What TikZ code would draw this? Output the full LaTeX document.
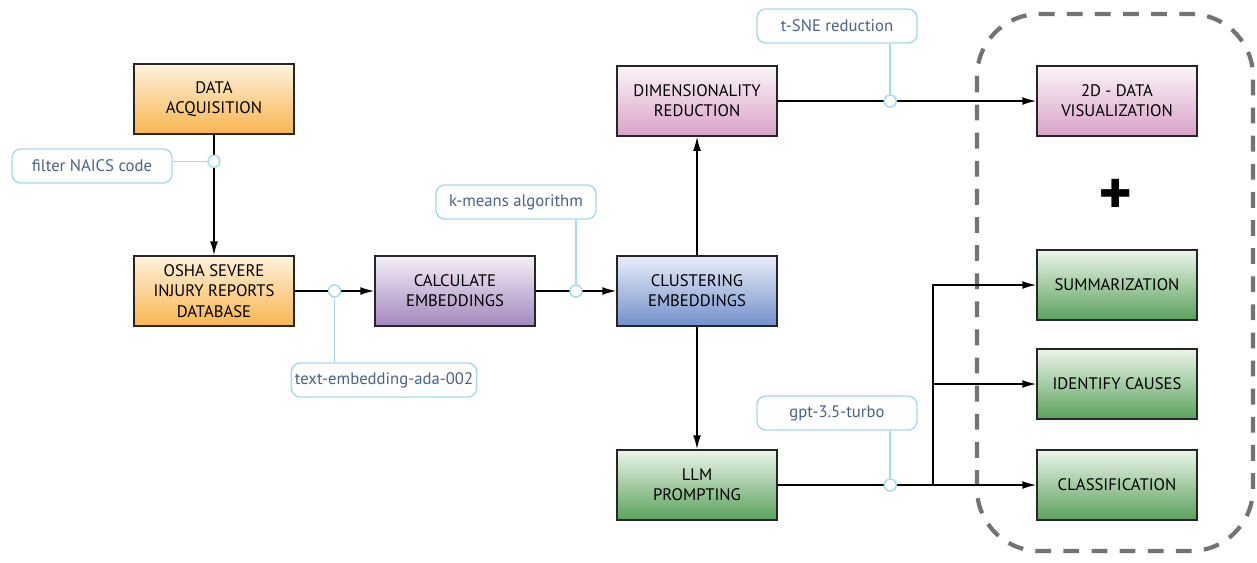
\documentclass[tikz,border=0pt]{standalone}
\usepackage{fontspec}
\setmainfont{PT Sans}
\newfontfamily\symfont{DejaVu Sans}
\usetikzlibrary{positioning,arrows.meta,calc}

\definecolor{tagblue}{HTML}{A6D8EA}
\definecolor{tagtext}{HTML}{4A6188}
\definecolor{orangetop}{HTML}{FFF2DC}
\definecolor{orangebot}{HTML}{F8B54F}
\definecolor{purpletop}{HTML}{F4EFF6}
\definecolor{purplebot}{HTML}{A387BE}
\definecolor{bluetop}{HTML}{E9EDF8}
\definecolor{bluebot}{HTML}{7290CB}
\definecolor{pinktop}{HTML}{FBF4F8}
\definecolor{pinkbot}{HTML}{D8A2C8}
\definecolor{greentop}{HTML}{EBF5E9}
\definecolor{greenbot}{HTML}{5BA15C}

\tikzset{
  block/.style={draw=black!85, line width=0.8pt, minimum width=3.2cm,
    minimum height=1.4cm, align=center, inner sep=2pt,
    font=\fontsize{9.5}{11.5}\selectfont},
  orangebox/.style={block, top color=orangetop, bottom color=orangebot},
  purplebox/.style={block, top color=purpletop, bottom color=purplebot},
  bluebox/.style={block, top color=bluetop, bottom color=bluebot},
  pinkbox/.style={block, top color=pinktop, bottom color=pinkbot},
  greenbox/.style={block, top color=greentop, bottom color=greenbot},
  tag/.style={draw=tagblue, line width=0.8pt, rounded corners=5pt, text=tagtext,
    minimum width=3.2cm, minimum height=0.68cm, inner sep=2pt,
    font=\fontsize{9.5}{11}\selectfont},
  knot/.style={circle, draw=tagblue, fill=white, line width=0.8pt,
    inner sep=0pt, minimum size=0.24cm},
  flow/.style={line width=0.9pt, -{Latex[length=8pt,width=4.5pt]}},
  tagline/.style={draw=tagblue, line width=0.8pt},
  frame/.style={draw=black!55, line width=2.4pt, dash pattern=on 9pt off 7pt,
    rounded corners=1.25cm}
}

\begin{document}
\begin{tikzpicture}[x=0.02cm, y=-0.02cm]

    \useasboundingbox (0,0) rectangle (1257,562);

    % dashed frame round the outputs
    \draw[frame] (977,14) rectangle (1253,551);

    % pipeline blocks
    \node[orangebox] (acq) at (214,99) {DATA\\ACQUISITION};
    \node[orangebox] (osha) at (214,291) {OSHA SEVERE\\INJURY REPORTS\\DATABASE};
    \node[purplebox] (calc) at (455,291) {CALCULATE\\EMBEDDINGS};
    \node[bluebox] (clus) at (697,291) {CLUSTERING\\EMBEDDINGS};
    \node[pinkbox] (dimred) at (697,101) {DIMENSIONALITY\\REDUCTION};
    \node[greenbox] (llm) at (697,485) {LLM\\PROMPTING};

    % outputs
    \node[pinkbox] (vis) at (1117,101) {2D - DATA\\VISUALIZATION};
    \node[greenbox] (summ) at (1117,285) {SUMMARIZATION};
    \node[greenbox] (ident) at (1117,384) {IDENTIFY CAUSES};
    \node[greenbox] (class) at (1117,485) {CLASSIFICATION};
    \node (plus) at (1116,193) {\symfont\fontsize{22}{22}\selectfont ✚};

    % connectors with their knots
    \draw[flow] (acq) -- node[knot, pos=0.22] (k1) {} (osha);
    \draw[flow] (osha) -- node[knot, pos=0.5] (k2) {} (calc);
    \draw[flow] (calc) -- node[knot, pos=0.5] (k3) {} (clus);
    \draw[flow] (clus) -- (dimred);
    \draw[flow] (clus) -- (llm);
    \draw[flow] (dimred) -- node[knot, pos=0.435] (k4) {} (vis);
    \draw[flow] (llm) -- node[knot, pos=0.435] (k5) {} (class);

    \coordinate (br) at ($(llm.east)!0.6!(class.west)$);
    \draw[flow] (br) |- (summ);
    \draw[flow] (br) |- (ident);

    % tool labels
    \node[tag] (filter) at (92,166) {filter NAICS code};
    \node[tag] (ada) at (384,380) {text-embedding-ada-002};
    \node[tag] (kmeans) at (516,202) {k-means algorithm};
    \node[tag] (tsne) at (837,26) {t-SNE reduction};
    \node[tag] (gpt) at (837,413) {gpt-3.5-turbo};

    \begin{scope}[tagline]
        \draw (filter.east |- k1) -- (k1);
        \draw (k2) -- (k2 |- ada.north);
        \draw (k3) -- (k3 |- kmeans.south);
        \draw (k4) -- (k4 |- tsne.south);
        \draw (k5) -- (k5 |- gpt.south);
    \end{scope}

\end{tikzpicture}
\end{document}
